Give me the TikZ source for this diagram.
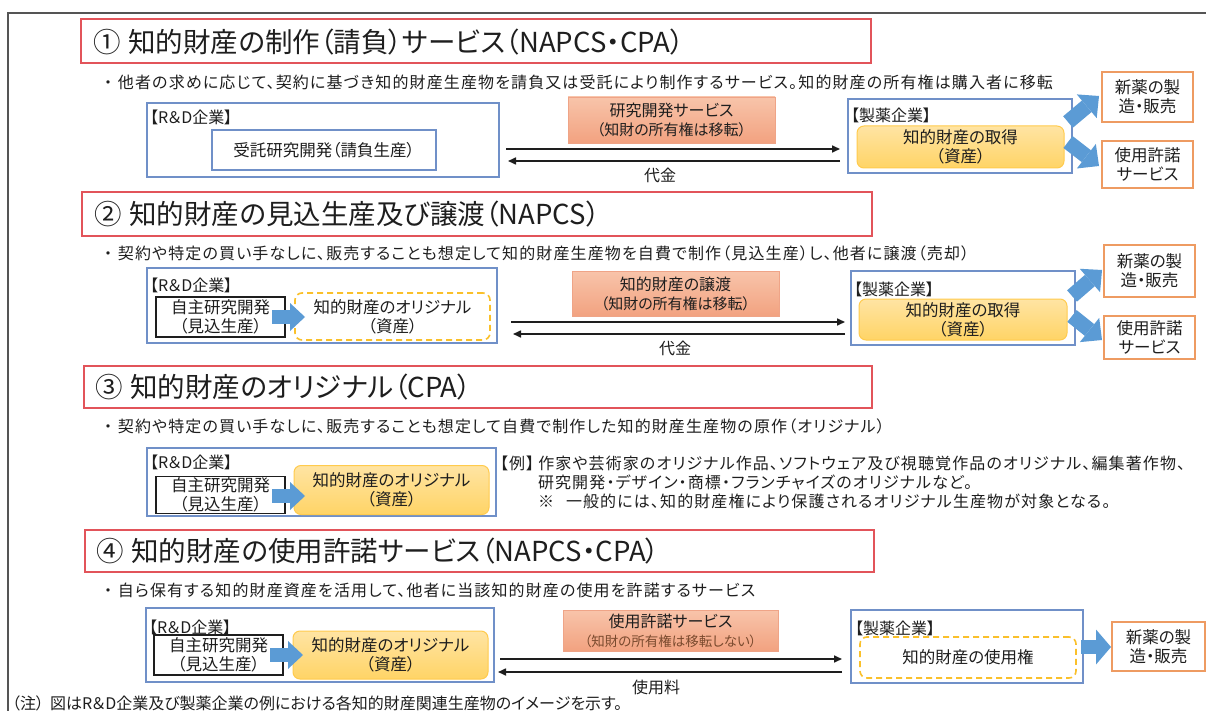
\documentclass[tikz,border=0pt]{standalone}
\usepackage{fontspec}
\setmainfont{Noto Sans CJK JP}[RawFeature={+palt}]
\newfontfamily\spacedjp{Noto Sans CJK JP}[RawFeature={+palt}, LetterSpace=7]
\usetikzlibrary{arrows.meta}
\definecolor{ink}{HTML}{1E1E1E}
\definecolor{titlered}{HTML}{E2545A}
\definecolor{boxblue}{HTML}{7090C8}
\definecolor{outorange}{HTML}{EE9B62}
\definecolor{salmontop}{HTML}{F8C4AA}
\definecolor{salmonbot}{HTML}{F2A280}
\definecolor{salmonline}{HTML}{EFA487}
\definecolor{yeltop}{HTML}{FFE4A3}
\definecolor{yelbot}{HTML}{FFD466}
\definecolor{yelline}{HTML}{FFCB4D}
\definecolor{gold}{HTML}{FAC02A}
\definecolor{blockblue}{HTML}{5B9BD5}
\definecolor{framegray}{HTML}{555555}
\definecolor{brownink}{HTML}{7A4A2E}
\newcommand\szTitle{\fontsize{27.5}{32}\selectfont}
\newcommand\szBody{\fontsize{16}{19}\selectfont}
\newcommand\szBoxT{\fontsize{16.5}{19}\selectfont}
\newcommand\szSmall{\fontsize{15}{18}\selectfont}
\begin{document}
\begin{tikzpicture}[x=1pt,y=-1pt,
  every node/.style={inner sep=0pt, outer sep=0pt, text=ink},
  titlebox/.style={draw=titlered, line width=1.6pt, fill=white},
  titletxt/.style={font=\szTitle, anchor=west},
  bodytxt/.style={font=\spacedjp\szBody, anchor=west},
  notetxt/.style={font=\szBody, anchor=west},
  labeltxt/.style={font=\szBody},
  bluebox/.style={draw=boxblue, line width=1.3pt, fill=white, align=center, font=\szBoxT},
  blackbox/.style={draw=ink, line width=1.3pt, fill=white, align=center, font=\szBoxT},
  orangebox/.style={top color=salmontop, bottom color=salmonbot, draw=salmonline, line width=0.8pt, align=center, font=\szBody},
  yellowbox/.style={rounded corners=7pt, top color=yeltop, bottom color=yelbot, draw=yelline, line width=1pt, align=center, font=\szBoxT},
  dashbox/.style={rounded corners=7pt, draw=gold, line width=1.6pt, dash pattern=on 6pt off 4pt, fill=white, align=center, font=\szBoxT},
  outbox/.style={draw=outorange, line width=1.6pt, fill=white, align=center, font=\szBoxT},
  flow/.style={draw=ink, line width=1.6pt, -{Triangle[length=8pt,width=7pt]}},
  fatflat/.style={draw=blockblue, line width=14pt, -{Triangle[length=15pt,width=28pt,line width=0pt]}},
  fatslant/.style={draw=blockblue, line width=15pt, -{Triangle[length=16pt,width=31pt,line width=0pt]}},
  fatbig/.style={draw=blockblue, line width=14pt, -{Triangle[length=15pt,width=35pt,line width=0pt]}}
]
\useasboundingbox (0,0) rectangle (1206,711);
\fill[white] (0,0) rectangle (1206,711);
\draw[framegray, line width=1.3pt] (8,711) -- (8,13) -- (1206,13);

% ---------------- Section 1
\node[titlebox, minimum width=790pt, minimum height=44pt] (t1) at (476,41) {};
\node[titletxt] (t1txt) at (93,42) {①\hspace{8pt}知的財産の制作（請負）サービス（NAPCS・CPA）};
\node[bodytxt] (b1) at (104,82) {・\hspace{6pt}他者の求めに応じて、契約に基づき知的財産生産物を請負又は受託により制作するサービス。知的財産の所有権は購入者に移転};
\node[bluebox, minimum width=352pt, minimum height=74pt] (rd1) at (323,140) {};
\node[labeltxt, anchor=west] (rd1l) at (150,117) {【R＆D企業】};
\node[bluebox, minimum width=224pt, minimum height=40pt] (in1) at (324,150) {受託研究開発（請負生産）};
\node[orangebox, minimum width=207pt, minimum height=46pt] (o1) at (671.5,120) {研究開発サービス\\{\szSmall（知財の所有権は移転）}};
\coordinate (a1s) at (506,149); \coordinate (a1e) at (840,149);
\coordinate (r1s) at (840,161); \coordinate (r1e) at (508,161);
\draw[flow] (a1s) -- (a1e);
\draw[flow] (r1s) -- (r1e);
\node[labeltxt] (pay1) at (660,175) {代金};
\node[bluebox, minimum width=224pt, minimum height=74pt] (p1) at (960,136) {};
\node[labeltxt, anchor=west] (p1l) at (851,115) {【製薬企業】};
\node[yellowbox, minimum width=207pt, minimum height=42pt] (y1) at (960.5,147) {知的財産の取得\\（資産）};
\node[outbox, minimum width=91pt, minimum height=50pt] (n1) at (1147.5,97) {新薬の製\\造・販売};
\node[outbox, minimum width=91pt, minimum height=47pt] (l1) at (1147.5,164.5) {使用許諾\\サービス};
\coordinate (u1s) at (1068,122); \coordinate (u1e) at (1099,96);
\coordinate (d1s) at (1068,142); \coordinate (d1e) at (1099,166);
\draw[fatslant] (u1s) -- (u1e);
\draw[fatslant] (d1s) -- (d1e);

% ---------------- Section 2
\node[titlebox, minimum width=790pt, minimum height=44pt] (t2) at (477,214) {};
\node[titletxt] (t2txt) at (94,214) {②\hspace{8pt}知的財産の見込生産及び譲渡（NAPCS）};
\node[bodytxt] (b2) at (104,253) {・\hspace{6pt}契約や特定の買い手なしに、販売することも想定して知的財産生産物を自費で制作（見込生産）し、他者に譲渡（売却）};
\node[bluebox, minimum width=350pt, minimum height=75pt] (rd2) at (322,305.5) {};
\node[labeltxt, anchor=west] (rd2l) at (150,285) {【R＆D企業】};
\node[blackbox, minimum width=129pt, minimum height=40pt] (k2) at (220.5,317) {自主研究開発\\（見込生産）};
\node[dashbox, minimum width=195pt, minimum height=47pt] (dy2) at (392.5,316.5) {知的財産のオリジナル\\（資産）};
\coordinate (h2s) at (272,317); \coordinate (h2e) at (305,317);
\draw[fatflat] (h2s) -- (h2e);
\node[orangebox, minimum width=207pt, minimum height=45pt] (o2) at (675.5,293.5) {知的財産の譲渡\\{\szSmall（知財の所有権は移転）}};
\coordinate (a2s) at (511,322); \coordinate (a2e) at (845,322);
\coordinate (r2s) at (845,334); \coordinate (r2e) at (513,334);
\draw[flow] (a2s) -- (a2e);
\draw[flow] (r2s) -- (r2e);
\node[labeltxt] (pay2) at (675,348) {代金};
\node[bluebox, minimum width=224pt, minimum height=74pt] (p2) at (963,308) {};
\node[labeltxt, anchor=west] (p2l) at (854,289) {【製薬企業】};
\node[yellowbox, minimum width=208pt, minimum height=41pt] (y2) at (963,319.5) {知的財産の取得\\（資産）};
\node[outbox, minimum width=91pt, minimum height=52pt] (n2) at (1149.5,271) {新薬の製\\造・販売};
\node[outbox, minimum width=91pt, minimum height=43pt] (l2) at (1149.5,337.5) {使用許諾\\サービス};
\coordinate (u2s) at (1072,296); \coordinate (u2e) at (1102,270);
\coordinate (d2s) at (1072,316); \coordinate (d2e) at (1102,340);
\draw[fatslant] (u2s) -- (u2e);
\draw[fatslant] (d2s) -- (d2e);

% ---------------- Section 3
\node[titlebox, minimum width=788pt, minimum height=42pt] (t3) at (478,387) {};
\node[titletxt] (t3txt) at (95,387) {③\hspace{8pt}知的財産のオリジナル（CPA）};
\node[bodytxt] (b3) at (104,426) {・\hspace{6pt}契約や特定の買い手なしに、販売することも想定して自費で制作した知的財産生産物の原作（オリジナル）};
\node[bluebox, minimum width=349pt, minimum height=68pt] (rd3) at (321.5,482) {};
\node[labeltxt, anchor=west] (rd3l) at (150,462) {【R＆D企業】};
\node[blackbox, minimum width=129pt, minimum height=37pt] (k3) at (220.5,495) {自主研究開発\\（見込生産）};
\node[yellowbox, minimum width=195pt, minimum height=49pt] (y3) at (391.5,490) {知的財産のオリジナル\\（資産）};
\coordinate (h3s) at (272,496); \coordinate (h3e) at (305,496);
\draw[fatflat] (h3s) -- (h3e);
\node[bodytxt] (ex1) at (500,463) {【例】\hspace{4pt}作家や芸術家のオリジナル作品、ソフトウェア及び視聴覚作品のオリジナル、編集著作物、};
\node[bodytxt] (ex2) at (538,482) {研究開発・デザイン・商標・フランチャイズのオリジナルなど。};
\node[bodytxt] (ex3) at (538,501) {※\hspace{12pt}一般的には、知的財産権により保護されるオリジナル生産物が対象となる。};

% ---------------- Section 4
\node[titlebox, minimum width=789pt, minimum height=42pt] (t4) at (479.5,551) {};
\node[titletxt] (t4txt) at (96,551) {④\hspace{8pt}知的財産の使用許諾サービス（NAPCS・CPA）};
\node[bodytxt] (b4) at (104,590) {・\hspace{6pt}自ら保有する知的財産資産を活用して、他者に当該知的財産の使用を許諾するサービス};
\node[bluebox, minimum width=348pt, minimum height=74pt] (rd4) at (320,645) {};
\node[labeltxt, anchor=west] (rd4l) at (149,627) {【R＆D企業】};
\node[blackbox, minimum width=129pt, minimum height=40pt] (k4) at (218.5,655) {自主研究開発\\（見込生産）};
\node[yellowbox, minimum width=195pt, minimum height=48pt] (y4) at (390.5,655) {知的財産のオリジナル\\（資産）};
\coordinate (h4s) at (270,655); \coordinate (h4e) at (303,655);
\draw[fatflat] (h4s) -- (h4e);
\node[orangebox, minimum width=215pt, minimum height=41pt] (o4) at (670.5,630.5) {使用許諾サービス\\{\fontsize{13.5}{16}\selectfont\color{brownink}（知財の所有権は移転しない）}};
\coordinate (a4s) at (500,659); \coordinate (a4e) at (842,659);
\coordinate (r4s) at (842,672); \coordinate (r4e) at (498,672);
\draw[flow] (a4s) -- (a4e);
\draw[flow] (r4s) -- (r4e);
\node[labeltxt] (pay4) at (656,687) {使用料};
\node[bluebox, minimum width=232pt, minimum height=73pt] (p4) at (967,646.5) {};
\node[labeltxt, anchor=west] (p4l) at (855,628) {【製薬企業】};
\node[dashbox, minimum width=216pt, minimum height=41pt] (dy4) at (968,657.5) {知的財産の使用権};
\node[outbox, minimum width=93pt, minimum height=49pt] (n4) at (1158.5,646.5) {新薬の製\\造・販売};
\coordinate (h5s) at (1081,647); \coordinate (h5e) at (1111,647);
\draw[fatbig] (h5s) -- (h5e);

\node[notetxt] (note) at (12,703) {（注）\hspace{6pt}図はR＆D企業及び製薬企業の例における各知的財産関連生産物のイメージを示す。};
\end{tikzpicture}
\end{document}
